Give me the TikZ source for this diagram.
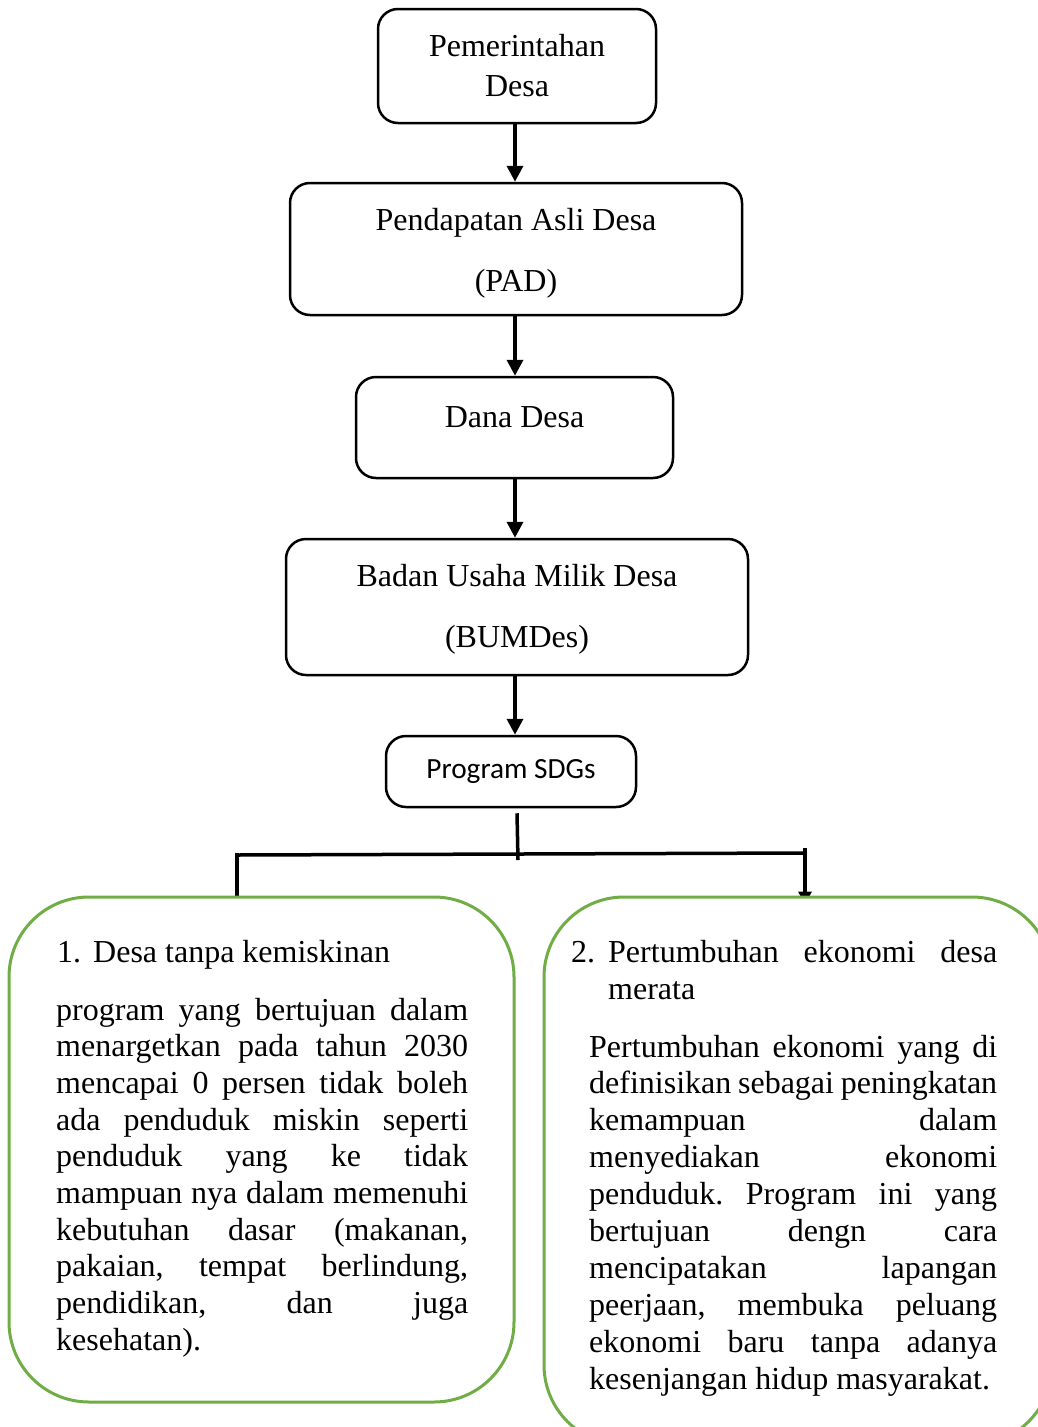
\documentclass[tikz,border=0pt]{standalone}
\usepackage{fontspec}
\setmainfont{Liberation Serif}
\newfontfamily\calib{Carlito}
\usetikzlibrary{arrows.meta,backgrounds}
\definecolor{grn}{RGB}{112,173,71}
\frenchspacing
\begin{document}
\begin{tikzpicture}[x=1pt,y=1pt,
 box/.style={draw=black,line width=2.5pt,rounded corners=20pt,fill=white,inner sep=0pt,align=center,font=\fontsize{32}{40}\selectfont},
 lbl/.style={inner sep=0pt,align=center,font=\fontsize{32}{61}\selectfont},
 arr/.style={line width=3.6pt,-{Triangle[width=16pt,length=16pt]}},
 ln/.style={line width=3.5pt},
 gbox/.style={draw=grn,line width=3pt,rounded corners=80pt,fill=white,inner sep=0pt},
 txt/.style={inner sep=0pt,anchor=base west,font=\fontsize{32}{36.8}\selectfont}]
\useasboundingbox (0,0) rectangle (1038,-1427);
\clip (0,0) rectangle (1038,-1427);
% top chain
\node[box,minimum width=278pt,minimum height=114pt] (pd) at (517,-66) {Pemerintahan\\Desa};
\node[box,minimum width=452pt,minimum height=132pt] (pad) at (516,-249) {};
\node[lbl] (padt) at (516,-253) {Pendapatan Asli Desa\\(PAD)};
\node[box,minimum width=317pt,minimum height=101pt] (dd) at (514.5,-427.5) {};
\node[lbl] (ddt) at (514.5,-417) {Dana Desa};
\node[box,minimum width=462pt,minimum height=136pt] (bum) at (517,-607) {};
\node[lbl] (bumt) at (517,-609) {Badan Usaha Milik Desa\\(BUMDes)};
\node[box,minimum width=250pt,minimum height=71pt,font=\calib\fontsize{29.3}{35}\selectfont] (sdg) at (511,-771.5) {Program SDGs};
\coordinate (cx) at (515,0);
\draw[arr] (pd.south -| cx) -- (pad.north -| cx);
\draw[arr] (pad.south -| cx) -- (dd.north -| cx);
\draw[arr] (dd.south -| cx) -- (bum.north -| cx);
\draw[arr] (bum.south -| cx) -- (sdg.north -| cx);
% green boxes
\node[gbox,minimum width=505pt,minimum height=505pt] (g1) at (261.5,-1149.5) {};
\node[gbox,minimum width=508pt,minimum height=548pt] (g2) at (798,-1171) {};
% branch
\coordinate (j) at (518,-860);
\coordinate (hl) at (237,-855);
\coordinate (hr) at (805,-853);
\begin{pgfonlayer}{background}
\fill[white] (0,0) rectangle (1038,-1427);
\draw[ln] ([xshift=6pt,yshift=-5pt]sdg.south) -- (j);
\draw[ln] (hl) -- (hr);
\draw[ln] ([yshift=2pt]hl) -- (hl |- g1.north);
\draw[ln,-{Triangle[width=13pt,length=13pt]}] ([yshift=5pt]hr) -- ([yshift=-9pt]hr |- g2.north);
\end{pgfonlayer}
% texts left
\node[txt] (h1) at (57,-962) {\makebox[36pt][l]{1.}Desa tanpa kemiskinan};
\node[txt] (p1) at (56,-1020) {\vtop{\baselineskip=36.7pt
 \hbox to 412pt{program yang bertujuan dalam}
 \hbox to 412pt{menargetkan pada tahun 2030}
 \hbox to 412pt{mencapai 0 persen tidak boleh}
 \hbox to 412pt{ada penduduk miskin seperti}
 \hbox to 412pt{penduduk yang ke tidak}
 \hbox to 412pt{mampuan nya dalam memenuhi}
 \hbox to 412pt{kebutuhan dasar (makanan,}
 \hbox to 412pt{pakaian, tempat berlindung,}
 \hbox to 412pt{pendidikan, dan juga}
 \hbox{kesehatan).}}};
% texts right
\node[txt] (h2) at (571,-962) {\vtop{\baselineskip=37pt
 \hbox{\makebox[37pt][l]{2.}\hbox to 389pt{Pertumbuhan ekonomi desa}}
 \hbox{\hspace*{37pt}merata}}};
\node[txt] (p2) at (589,-1057) {\vtop{\baselineskip=36.9pt
 \hbox to 408pt{Pertumbuhan ekonomi yang di}
 \hbox to 408pt{definisikan sebagai peningkatan}
 \hbox to 408pt{kemampuan dalam}
 \hbox to 408pt{menyediakan ekonomi}
 \hbox to 408pt{penduduk. Program ini yang}
 \hbox to 408pt{bertujuan dengn cara}
 \hbox to 408pt{mencipatakan lapangan}
 \hbox to 408pt{peerjaan, membuka peluang}
 \hbox to 408pt{ekonomi baru tanpa adanya}
 \hbox{kesenjangan hidup masyarakat.}}};
\end{tikzpicture}
\end{document}
